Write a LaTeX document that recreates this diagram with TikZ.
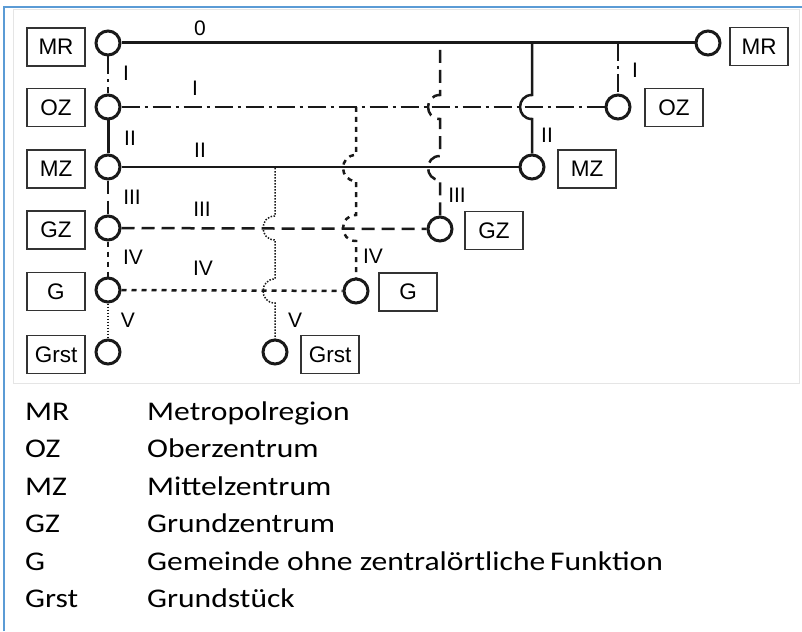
\documentclass[tikz,border=0pt]{standalone}
\usepackage{fontspec}
\setmainfont{Liberation Sans}
\newfontfamily\legendfont{Carlito}
\newcommand{\lgtext}[1]{\scalebox{1.17}[1]{#1}}
\begin{document}
\begin{tikzpicture}[x=1pt,y=-1pt,
  lv/.style={circle,draw=black!90,line width=3pt,minimum size=24pt,inner sep=0pt},
  bx/.style={draw=black!80,line width=1.2pt,minimum width=58pt,minimum height=38pt,inner sep=0pt,font=\fontsize{22.5}{24}\selectfont},
  num/.style={inner sep=0pt,font=\fontsize{21}{22}\selectfont},
  lg/.style={anchor=base west,inner sep=0pt,font=\legendfont\fontsize{27}{30}\selectfont},
  Lzero/.style={draw=black!90,line width=3pt},
  LI/.style={draw=black!90,line width=2.5pt,dash pattern=on 18pt off 5pt on 3pt off 5pt},
  LII/.style={draw=black!90,line width=2.5pt},
  LIII/.style={draw=black!90,line width=2.5pt,dash pattern=on 13pt off 7pt},
  LIV/.style={draw=black!90,line width=2.5pt,dash pattern=on 5pt off 5pt},
  LV/.style={draw=black!90,line width=1.5pt,dash pattern=on 1.5pt off 1.5pt},
  hop/.style={out=180,in=180,looseness=1.7}
]
\useasboundingbox (0,0) rectangle (802,631);
\fill[white] (0,0) rectangle (802,631);
% frames
\draw[black!10,line width=1pt] (13,10) rectangle (799,383);
\draw[color={rgb,255:red,91;green,155;blue,213},line width=2.5pt] (4,631) -- (4,7) -- (802,7);

% left circles
\node[lv] (mrL) at (108,43) {};
\node[lv] (ozL) at (108,107) {};
\node[lv] (mzL) at (108,167) {};
\node[lv] (gzL) at (108,228) {};
\node[lv] (gL)  at (108,290) {};
\node[lv] (grL) at (108,352) {};
% right circles
\node[lv] (mrR) at (708,43) {};
\node[lv] (ozR) at (618,107) {};
\node[lv] (mzR) at (532,167) {};
\node[lv] (gzR) at (440,229) {};
\node[lv] (gR)  at (356,291) {};
\node[lv] (grR) at (275,352) {};

% left boxes
\node[bx] (bmrL) at (56,47) {MR};
\node[bx] (bozL) at (56,107.5) {OZ};
\node[bx] (bmzL) at (56,169) {MZ};
\node[bx] (bgzL) at (56,230) {GZ};
\node[bx] (bgL)  at (56,291.5) {G};
\node[bx] (bgrL) at (56,354.5) {Grst};
% right boxes
\node[bx] (bmrR) at (759,46.5) {MR};
\node[bx] (bozR) at (674,107.5) {OZ};
\node[bx] (bmzR) at (587,169) {MZ};
\node[bx] (bgzR) at (494,230.5) {GZ};
\node[bx] (bgR)  at (408,292) {G};
\node[bx] (bgrR) at (330,354.5) {Grst};

% horizontal lines
\draw[Lzero] (mrL) -- (mrR);
\draw[LI] (ozL) -- (ozR);
\draw[LII] (mzL) -- (mzR);
\draw[LIII] (gzL) -- (gzR);
\draw[LIV] (gL) -- (gR);

% left vertical chain
\draw[LI] (mrL) -- (ozL);
\draw[Lzero] (ozL) -- (mzL);
\draw[LIII] (mzL) -- (gzL);
\draw[LIV] (gzL) -- (gL);
\draw[LV] (gL) -- (grL);

% junctions
\coordinate (j1) at (618,43);
\coordinate (j2) at (532,43);
\coordinate (j3) at (440,43);
\coordinate (j4) at (356,107);
\coordinate (j5) at (275,168);

% right verticals with hops
\draw[LI] (j1) -- (ozR);
\draw[LII] (j2) -- (532,95) to[hop] (532,119) -- (mzR);
\draw[LIII,dash phase=13pt] (j3) -- (440,95) to[hop] (440,119) -- (440,156) to[hop] (440,180) -- (gzR);
\draw[LIV] (j4) -- (356,155) to[hop] (356,181) -- (356,215) to[hop] (356,241) -- (gR);
\draw[LV] (j5) -- (275,216) to[hop] (275,240) -- (275,279) to[hop] (275,303) -- (grR);

% level labels
\node[num] (n0) at (200,28) {0};
\node[num] (nIh) at (195,88) {I};
\node[num] (nIIh) at (200,150) {II};
\node[num] (nIIIh) at (202,209) {III};
\node[num] (nIVh) at (203,268) {IV};
\node[num] (nIl) at (126,73) {I};
\node[num] (nIIl) at (130,138) {II};
\node[num] (nIIIl) at (132,197) {III};
\node[num] (nIVl) at (133,257) {IV};
\node[num] (nVl) at (128,320) {V};
\node[num] (nIr) at (635,70) {I};
\node[num] (nIIr) at (547,135) {II};
\node[num] (nIIIr) at (457,195) {III};
\node[num] (nIVr) at (373,256) {IV};
\node[num] (nVr) at (295,320) {V};

% legend
\node[lg] (k1) at (25,420) {\lgtext{MR}};
\node[lg] (k2) at (25,457.5) {\lgtext{OZ}};
\node[lg] (k3) at (25,495) {\lgtext{MZ}};
\node[lg] (k4) at (25,532.5) {\lgtext{GZ}};
\node[lg] (k5) at (25,570) {\lgtext{G}};
\node[lg] (k6) at (25,607.5) {\lgtext{Grst}};
\node[lg] (v1) at (147,420) {\lgtext{Metropolregion}};
\node[lg] (v2) at (147,457.5) {\lgtext{Oberzentrum}};
\node[lg] (v3) at (147,495) {\lgtext{Mittelzentrum}};
\node[lg] (v4) at (147,532.5) {\lgtext{Grundzentrum}};
\node[lg] (v5) at (147,570) {\lgtext{Gemeinde ohne zentralörtliche\hspace{-2pt} Funktion}};
\node[lg] (v6) at (147,607.5) {\lgtext{Grundstück}};
\end{tikzpicture}
\end{document}
